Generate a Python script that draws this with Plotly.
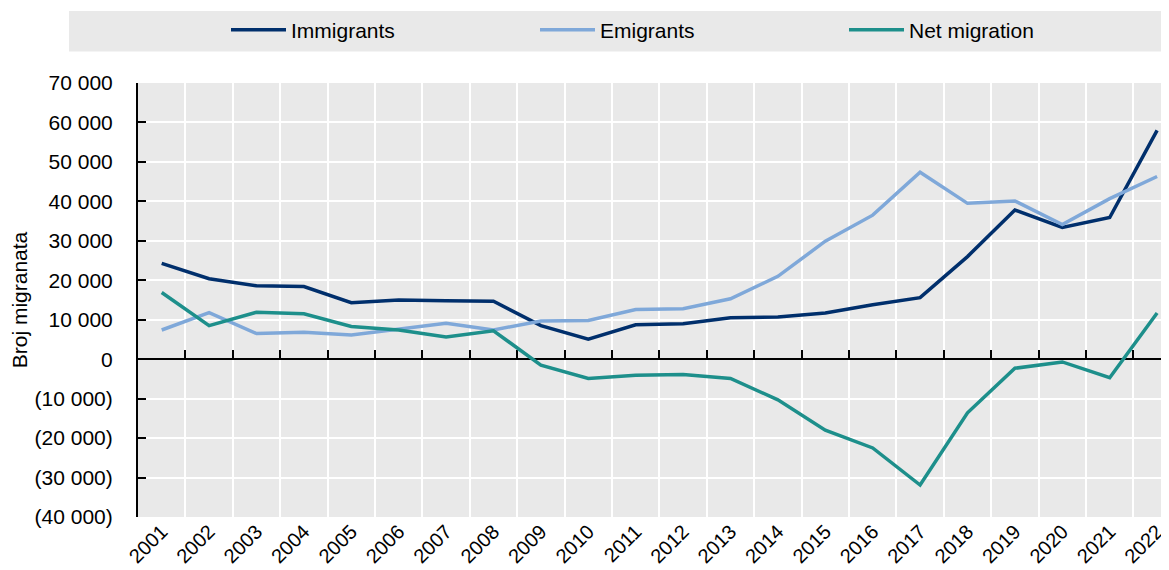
import plotly.graph_objects as go

years = [str(y) for y in range(2001, 2023)]
immigrants = [24300, 20400, 18600, 18400, 14300, 15000, 14800, 14700, 8500, 5100,
              8700, 9000, 10500, 10700, 11700, 13800, 15600, 26000, 37800, 33400,
              35900, 58000]
emigrants = [7400, 11800, 6500, 6800, 6100, 7700, 9100, 7400, 9700, 9800,
             12600, 12800, 15300, 21000, 29900, 36500, 47400, 39500, 40100, 34100,
             40700, 46300]
net_migration = [16900, 8500, 11900, 11500, 8300, 7400, 5600, 7200, -1500, -4900,
                 -4100, -3900, -4900, -10300, -18000, -22500, -31900, -13600, -2300, -700,
                 -4700, 11700]

series_names = ["Immigrants", "Emigrants", "Net migration"]
series_colors = ["#002F6C", "#7FA8D9", "#1D8F8B"]

y_tickvals = [70000, 60000, 50000, 40000, 30000, 20000, 10000, 0,
              -10000, -20000, -30000, -40000]
y_ticktext = ["70 000", "60 000", "50 000", "40 000", "30 000", "20 000", "10 000", "0",
              "(10 000)", "(20 000)", "(30 000)", "(40 000)"]
y_title = "Broj migranata"

FONT = "Liberation Sans Narrow, Arial Narrow, Liberation Sans, Arial, sans-serif"

# the page body adds an 8 px offset, so the figure is laid out 8 px smaller
OFF = 8
W, H = 1169 - OFF, 570 - OFF
ML, MR, MT, MB = 138 - OFF, 0, 83 - OFF, 570 - 517
plot_w = W - ML - MR
plot_h = H - MT - MB
cat_w = 47.4
x_hi = -0.5 + plot_w / cat_w
y_lo, y_hi = -40000, 70000

fig = go.Figure()
for name, vals, col in zip(series_names, [immigrants, emigrants, net_migration], series_colors):
    fig.add_trace(go.Scatter(x=years, y=vals, name=name, mode="lines",
                             line=dict(color=col, width=3.5)))

# invisible helper trace so the zero-line axis (x2) gets its categories
fig.add_trace(go.Scatter(x=years, y=net_migration, xaxis="x2", mode="lines",
                         line=dict(width=0, color="rgba(0,0,0,0)"),
                         showlegend=False, hoverinfo="skip"))

def px_to_paper_x(px):
    return (px - OFF - ML) / plot_w

def px_to_paper_y(py):
    return (H - MB - (py - OFF)) / plot_h

fig.add_shape(type="rect", xref="paper", yref="paper",
              x0=px_to_paper_x(69), x1=px_to_paper_x(1175),
              y0=px_to_paper_y(51.5), y1=px_to_paper_y(11),
              fillcolor="#E9E9E9", line=dict(width=0), layer="below")

fig.update_layout(
    width=W, height=H,
    margin=dict(l=ML, r=MR, t=MT, b=MB, pad=0, autoexpand=False),
    paper_bgcolor="white",
    plot_bgcolor="#E9E9E9",
    font=dict(family=FONT, size=21, color="black"),
    showlegend=True,
    legend=dict(orientation="h", x=px_to_paper_x(226), xanchor="left",
                y=px_to_paper_y(30), yanchor="middle",
                bgcolor="rgba(0,0,0,0)", font=dict(size=21),
                itemwidth=55,
                entrywidth=239, entrywidthmode="pixels", traceorder="normal"),
    xaxis=dict(type="category", range=[-0.5, x_hi], tickson="boundaries",
               showgrid=True, gridcolor="white", gridwidth=2,
               showline=False, ticks="", tickangle=-45, automargin=False,
               ticklabelstandoff=-2,
               tickfont=dict(size=20), zeroline=False, fixedrange=True),
    xaxis2=dict(type="category", overlaying="x", anchor="free",
                position=(0 - y_lo) / (y_hi - y_lo), side="bottom",
                range=[-0.5, x_hi], tickson="boundaries", automargin=False,
                showgrid=False, showline=True, linecolor="black", linewidth=2,
                ticks="inside", ticklen=8, tickwidth=2, tickcolor="black",
                showticklabels=False, layer="below traces"),
    yaxis=dict(range=[y_lo, y_hi], tickvals=y_tickvals, ticktext=y_ticktext,
               showgrid=True, gridcolor="white", gridwidth=2, automargin=False,
               showline=True, linecolor="black", linewidth=2,
               ticks="inside", ticklen=8, tickwidth=2, tickcolor="black",
               ticklabelstandoff=19, zeroline=False,
               title=dict(text=y_title, font=dict(size=21), standoff=12)),
)

fig.write_html("out.html")
